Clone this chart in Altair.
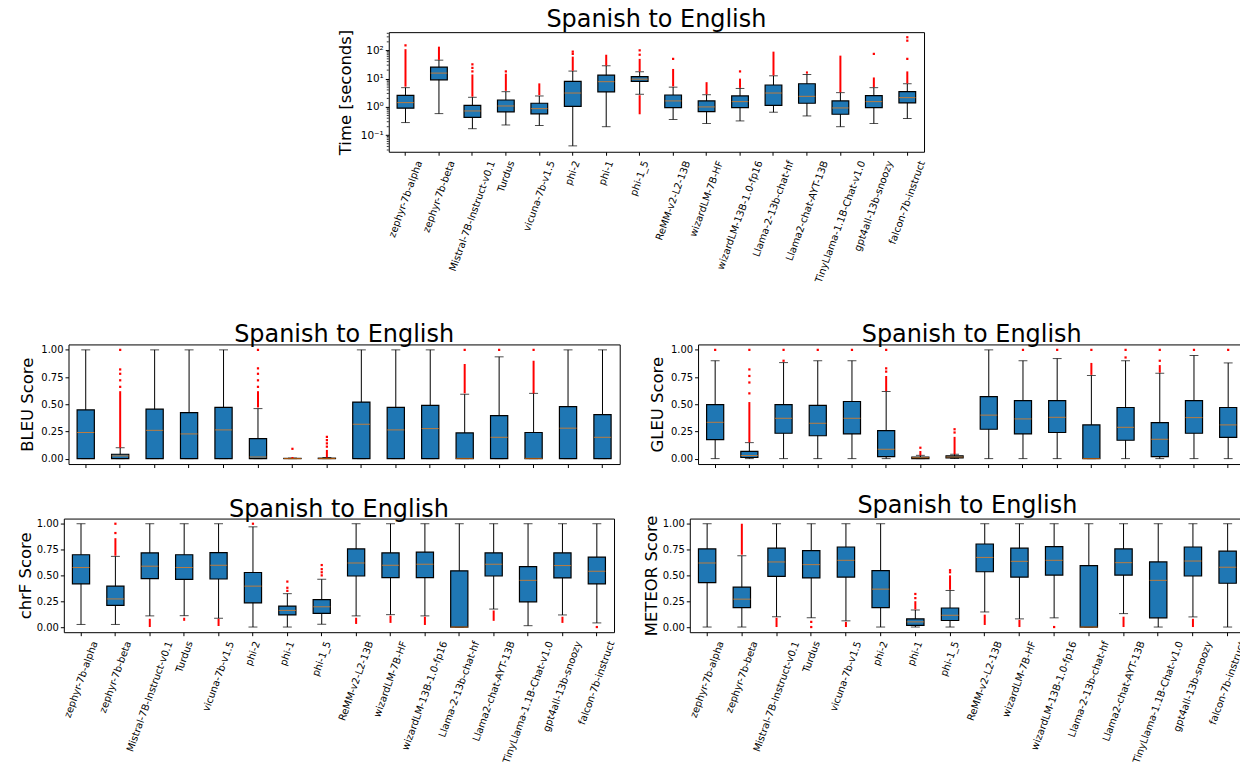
import altair as alt
import pandas as pd

models = ["zephyr-7b-alpha", "zephyr-7b-beta", "Mistral-7B-Instruct-v0.1", "Turdus",
          "vicuna-7b-v1.5", "phi-2", "phi-1", "phi-1_5", "ReMM-v2-L2-13B", "wizardLM-7B-HF",
          "wizardLM-13B-1.0-fp16", "Llama-2-13b-chat-hf", "Llama2-chat-AYT-13B",
          "TinyLlama-1.1B-Chat-v1.0", "gpt4all-13b-snoozy", "falcon-7b-instruct"]

title_text = "Spanish to English"

# ---- Time [seconds] (log scale) ----
time_lo = [0.28, 0.58, 0.17, 0.23, 0.22, 0.042, 0.20, 2.8, 0.36, 0.26, 0.32, 0.65, 0.48, 0.20, 0.26, 0.39]
time_q1 = [0.90, 9.1, 0.43, 0.67, 0.57, 1.05, 3.4, 8.0, 0.95, 0.68, 0.95, 1.14, 1.35, 0.55, 0.95, 1.38]
time_med = [1.42, 15.7, 0.72, 1.08, 0.87, 3.1, 7.8, 9.6, 1.63, 1.0, 1.54, 3.1, 2.37, 0.92, 1.54, 2.13]
time_q3 = [2.57, 25.5, 1.14, 1.76, 1.35, 8.0, 13.3, 11.7, 2.64, 1.63, 2.44, 5.95, 6.6, 1.63, 2.5, 3.46]
time_hi = [4.8, 45, 2.19, 3.46, 2.44, 18.5, 28.5, 17.5, 5.0, 2.7, 4.5, 12.6, 14, 3.2, 4.8, 6.6]
time_bands = [(0, 5.2, 110), (1, 46, 135), (2, 2.3, 14), (3, 3.7, 15), (4, 2.6, 6.8),
              (5, 19, 60), (6, 29, 70), (7, 18, 50), (7, 0.55, 2.6), (8, 5.3, 22),
              (9, 2.8, 7.5), (10, 4.7, 10), (11, 13, 90), (12, 15, 18), (13, 3.3, 65),
              (14, 5, 11), (15, 6.8, 18)]
time_points = [(0, 150), (2, 18), (2, 24), (2, 32), (3, 18), (5, 75), (5, 90), (7, 70),
               (7, 100), (8, 50), (10, 18), (14, 75), (15, 50), (15, 220), (15, 290)]
time_major = [0.1, 1, 10, 100]
time_minor = [0.03, 0.04, 0.05, 0.06, 0.07, 0.08, 0.09, 0.2, 0.3, 0.4, 0.5, 0.6, 0.7, 0.8, 0.9,
              2, 3, 4, 5, 6, 7, 8, 9, 20, 30, 40, 50, 60, 70, 80, 90, 200, 300, 400]

# ---- BLEU ----
bleu_lo = [0] * 16
bleu_q1 = [0] * 16
bleu_med = [0.24, 0.025, 0.26, 0.227, 0.264, 0.015, 0.0, 0.0, 0.316, 0.264, 0.276, 0.002, 0.196, 0.002, 0.28, 0.196]
bleu_q3 = [0.448, 0.04, 0.455, 0.423, 0.472, 0.184, 0.002, 0.004, 0.52, 0.472, 0.49, 0.236, 0.396, 0.24, 0.478, 0.405]
bleu_hi = [1, 0.10, 1, 1, 1, 0.46, 0.005, 0.01, 1, 1, 1, 0.592, 0.936, 0.60, 1, 1]
bleu_bands = [(1, 0.10, 0.62), (5, 0.47, 0.62), (6, 0.005, 0.015), (7, 0.01, 0.08),
              (11, 0.60, 0.87), (13, 0.60, 0.90)]
bleu_points = [(1, 0.66), (1, 0.72), (1, 0.78), (1, 0.82), (1, 1.0), (5, 0.66), (5, 0.72),
               (5, 0.78), (5, 0.83), (5, 1.0), (6, 0.09), (7, 0.11), (7, 0.14), (7, 0.17),
               (7, 0.20), (11, 1.0), (12, 1.0), (13, 1.0)]

# ---- GLEU ----
gleu_lo = [0] * 16
gleu_q1 = [0.175, 0.01, 0.233, 0.21, 0.227, 0.018, 0.0, 0.006, 0.27, 0.227, 0.24, 0.0, 0.169, 0.018, 0.233, 0.196]
gleu_med = [0.334, 0.028, 0.371, 0.325, 0.371, 0.086, 0.008, 0.015, 0.40, 0.365, 0.38, 0.0, 0.288, 0.178, 0.377, 0.31]
gleu_q3 = [0.497, 0.067, 0.497, 0.49, 0.525, 0.258, 0.015, 0.025, 0.57, 0.534, 0.534, 0.31, 0.47, 0.331, 0.534, 0.47]
gleu_hi = [0.90, 0.147, 0.883, 0.90, 0.90, 0.617, 0.03, 0.04, 1.0, 0.90, 0.92, 0.764, 0.90, 0.785, 0.948, 0.88]
gleu_bands = [(1, 0.15, 0.52), (5, 0.62, 0.76), (6, 0.03, 0.07), (7, 0.04, 0.20),
              (11, 0.77, 0.88), (13, 0.79, 0.86)]
gleu_points = [(0, 1.0), (1, 0.60), (1, 0.70), (1, 0.76), (1, 0.82), (1, 1.0), (2, 0.90), (2, 1.0),
               (3, 1.0), (4, 1.0), (5, 0.80), (5, 0.83), (5, 1.0), (6, 0.10), (7, 0.24), (7, 0.27),
               (9, 1.0), (10, 1.0), (11, 1.0), (12, 0.93), (12, 1.0), (13, 0.90), (13, 1.0),
               (14, 1.0), (15, 1.0)]

# ---- chrF ----
chrf_lo = [0.025, 0.025, 0.108, 0.11, 0.085, 0.0, 0.0, 0.028, 0.108, 0.12, 0.108, 0.0, 0.174, 0.013, 0.117, 0.04]
chrf_q1 = [0.418, 0.209, 0.468, 0.462, 0.465, 0.234, 0.117, 0.133, 0.494, 0.478, 0.478, 0.0, 0.494, 0.244, 0.475, 0.418]
chrf_med = [0.576, 0.272, 0.589, 0.576, 0.598, 0.396, 0.161, 0.196, 0.62, 0.598, 0.608, 0.0, 0.608, 0.452, 0.595, 0.54]
chrf_q3 = [0.70, 0.396, 0.718, 0.70, 0.72, 0.528, 0.203, 0.266, 0.756, 0.718, 0.725, 0.544, 0.718, 0.585, 0.718, 0.677]
chrf_hi = [1, 0.684, 1, 1, 1, 0.97, 0.323, 0.462, 1, 1, 1, 1, 1, 1, 1, 1]
chrf_bands = [(1, 0.69, 0.86), (2, 0.0, 0.08), (3, 0.06, 0.09), (4, 0.01, 0.08), (8, 0.03, 0.09),
              (9, 0.04, 0.11), (10, 0.02, 0.10), (12, 0.06, 0.16), (14, 0.04, 0.10)]
chrf_points = [(1, 0.91), (1, 1.0), (5, 1.0), (6, 0.35), (6, 0.38), (6, 0.44), (7, 0.50),
               (7, 0.53), (7, 0.56), (7, 0.60), (15, 0.0)]

# ---- METEOR ----
meteor_lo = [0, 0, 0.10, 0.089, 0.06, 0, 0, 0, 0.146, 0.079, 0.089, 0, 0.13, 0, 0.098, 0]
meteor_q1 = [0.43, 0.187, 0.49, 0.475, 0.484, 0.187, 0.016, 0.063, 0.535, 0.484, 0.503, 0, 0.503, 0.089, 0.494, 0.424]
meteor_med = [0.62, 0.27, 0.63, 0.604, 0.646, 0.367, 0.05, 0.114, 0.674, 0.636, 0.646, 0, 0.623, 0.452, 0.639, 0.579]
meteor_q3 = [0.756, 0.386, 0.763, 0.74, 0.775, 0.547, 0.079, 0.184, 0.804, 0.763, 0.778, 0.595, 0.756, 0.63, 0.775, 0.734]
meteor_hi = [1, 0.69, 1, 1, 1, 1, 0.165, 0.354, 1, 1, 1, 1, 1, 1, 1, 1]
meteor_bands = [(1, 0.70, 1.0), (2, 0.0, 0.09), (4, 0.0, 0.05), (6, 0.17, 0.25), (7, 0.36, 0.50),
                (8, 0.02, 0.12), (9, 0.0, 0.07), (12, 0.0, 0.10), (14, 0.0, 0.08)]
meteor_points = [(3, 0.0), (3, 0.05), (6, 0.28), (6, 0.32), (7, 0.53), (7, 0.55), (10, 0.0)]

score_ticks = [0, 0.25, 0.5, 0.75, 1.0]

FONT = "DejaVu Sans"
BOX = "#1f77b4"
MED = "#ff7f0e"

# approximate DejaVu Sans advance widths (em)
W = {c: v for c, v in zip("abcdefghijklmnopqrstuvwxyz",
     [.613, .635, .550, .635, .615, .352, .635, .634, .278, .278, .579, .278, .974, .634, .612,
      .635, .635, .411, .521, .392, .634, .592, .818, .592, .592, .525])}
W.update({c: v for c, v in zip("ABCDEFGHIJKLMNOPQRSTUVWXYZ",
     [.684, .686, .698, .770, .632, .575, .775, .752, .295, .295, .656, .557, .863, .748, .787,
      .603, .787, .695, .635, .611, .732, .684, .989, .685, .611, .685])})
W.update({d: .636 for d in "0123456789"})
W.update({"-": .361, ".": .318, "_": .500, " ": .318})


def text_width(s, fs):
    return sum(W.get(ch, 0.6) for ch in s) * fs


def label_offset_cond(fs):
    conds = [{"test": "datum.value === '%s'" % m, "value": round(0.171 * text_width(m, fs), 1)}
             for m in models]
    return {"condition": conds, "value": 0}


def stats_frame(lo, q1, med, q3, hi):
    return pd.DataFrame({"model": models, "lo": lo, "q1": q1, "med": med, "q3": q3, "hi": hi})


def band_frame(bands):
    return pd.DataFrame([{"model": models[i], "a": a, "b": b} for i, a, b in bands],
                        columns=["model", "a", "b"])


def point_frame(pts):
    return pd.DataFrame([{"model": models[i], "v": v} for i, v in pts], columns=["model", "v"])


def panel(st, bands, pts, width, height, ytitle, yscale, yaxis, show_labels, minor=None):
    bw = width / len(models)
    if show_labels:
        xaxis = alt.Axis(title=None, labelAngle=290, labelAlign="right", labelBaseline="middle",
                         labelPadding=5.5, labelOffset=label_offset_cond(10), labelFontSize=10,
                         labelFont=FONT, labelColor="black", ticks=True, tickSize=3.5,
                         tickColor="black", domain=False, grid=False)
    else:
        xaxis = alt.Axis(title=None, labels=False, ticks=True, tickSize=3.5, tickColor="black",
                         domain=False, grid=False)
    X = alt.X("model:N", sort=models, scale=alt.Scale(paddingInner=0, paddingOuter=0), axis=xaxis)

    def Y(f):
        return alt.Y(f, type="quantitative", scale=yscale, axis=yaxis, title=ytitle)

    base = alt.Chart(st)
    layers = [
        base.mark_rule(color="black", strokeWidth=1).encode(x=X, y=Y("lo"), y2=alt.Y2("hi")),
        base.mark_tick(orient="horizontal", color="black", thickness=1, size=bw * 0.26).encode(x=X, y=Y("lo")),
        base.mark_tick(orient="horizontal", color="black", thickness=1, size=bw * 0.26).encode(x=X, y=Y("hi")),
        base.mark_bar(size=bw * 0.5, color=BOX, stroke="black", strokeWidth=1.2).encode(x=X, y=Y("q1"), y2=alt.Y2("q3")),
        base.mark_tick(orient="horizontal", color=MED, thickness=1, size=bw * 0.5).encode(x=X, y=Y("med")),
        alt.Chart(band_frame(bands)).mark_rule(color="red", strokeWidth=2).encode(x=X, y=Y("a"), y2=alt.Y2("b")),
        alt.Chart(point_frame(pts)).mark_square(color="red", size=5, opacity=1).encode(x=X, y=Y("v")),
    ]
    if minor is not None:
        layers.append(alt.Chart(pd.DataFrame({"v": minor})).mark_rule(color="black", strokeWidth=0.8)
                      .encode(x=alt.value(-2), x2=alt.value(0), y=Y("v")))
    return alt.layer(*layers).properties(
        width=width, height=height,
        title=alt.TitleParams(title_text, fontSize=24, font=FONT, fontWeight="normal", color="black",
                              offset=-3, anchor="middle"))


def score_axis(title_pad):
    return alt.Axis(values=score_ticks, format=".2f", labelFontSize=10, labelFont=FONT,
                    labelColor="black", titleFont=FONT, titleFontSize=16.5, titleFontWeight="normal",
                    titleColor="black", tickSize=3.5, tickColor="black", labelPadding=2,
                    titlePadding=title_pad, domain=False, grid=False)


score_scale = alt.Scale(domain=[-0.05, 1.05], nice=False, zero=False)

time_axis = alt.Axis(values=time_major,
                     labelExpr="datum.value >= 100 ? '10²' : datum.value >= 10 ? '10¹' : datum.value >= 1 ? '10⁰' : '10⁻¹'",
                     labelFontSize=10.5, labelFont=FONT, labelColor="black", titleFont=FONT,
                     titleFontSize=16.5, titleFontWeight="normal", titleColor="black", tickSize=3.5,
                     tickColor="black", labelPadding=2, titlePadding=7, domain=False, grid=False)
time_scale = alt.Scale(type="log", domain=[0.026, 440], nice=False)

top = panel(stats_frame(time_lo, time_q1, time_med, time_q3, time_hi), time_bands, time_points,
            537, 120, "Time [seconds]", time_scale, time_axis, True, minor=time_minor)
bleu = panel(stats_frame(bleu_lo, bleu_q1, bleu_med, bleu_q3, bleu_hi), bleu_bands, bleu_points,
             553, 120, "BLEU Score", score_scale, score_axis(5), False)
gleu = panel(stats_frame(gleu_lo, gleu_q1, gleu_med, gleu_q3, gleu_hi), gleu_bands, gleu_points,
             549, 120, "GLEU Score", score_scale, score_axis(5), False)
chrf = panel(stats_frame(chrf_lo, chrf_q1, chrf_med, chrf_q3, chrf_hi), chrf_bands, chrf_points,
             552, 114, "chrF Score", score_scale, score_axis(3), True)
meteor = panel(stats_frame(meteor_lo, meteor_q1, meteor_med, meteor_q3, meteor_hi), meteor_bands,
               meteor_points, 557, 114, "METEOR Score", score_scale, score_axis(3), True)


def spacer():
    return alt.Chart(pd.DataFrame({"s": [0]})).mark_rect(opacity=0).encode(
        x=alt.value(0), x2=alt.value(1), y=alt.value(0), y2=alt.value(1)
    ).properties(width=1, height=1, view=alt.ViewBackground(stroke="transparent"))


# flush layout: nested concat groups take no room, so spacings carry the full offsets
row1 = alt.hconcat(spacer(), top, spacing=325, bounds="flush")
row2 = alt.hconcat(spacer(), alt.hconcat(bleu, gleu, spacing=78.6, bounds="flush"),
                   spacing=3.7, bounds="flush")
row3 = alt.hconcat(chrf, meteor, spacing=76, bounds="flush")
bottom = alt.vconcat(row2, row3, spacing=174.7, bounds="flush")

chart = alt.vconcat(row1, bottom, spacing=313.3, bounds="flush").properties(
    padding={"left": 8, "top": -2, "right": -8, "bottom": -4}
).configure(font=FONT).configure_view(stroke="black", strokeWidth=1)

chart.save("out.html", embed_options={"renderer": "svg", "actions": False})
